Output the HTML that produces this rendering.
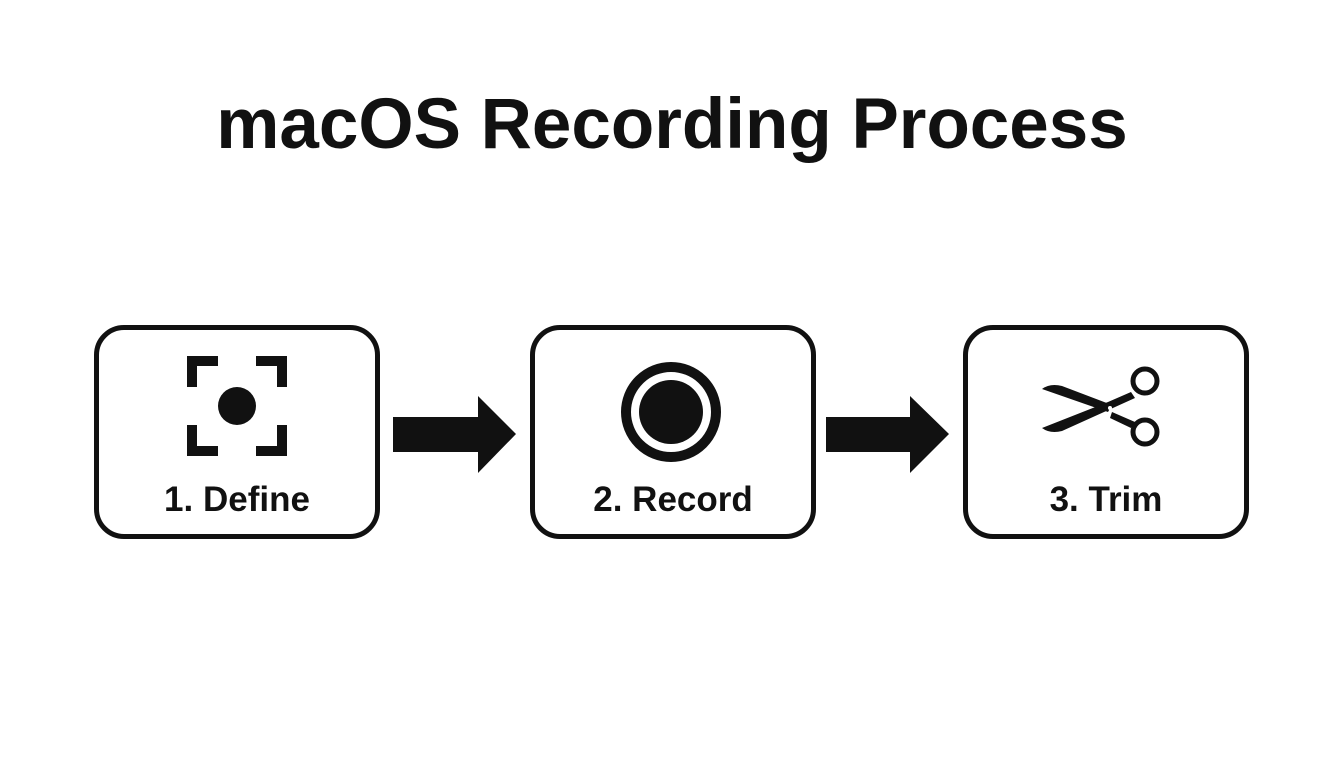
<!DOCTYPE html>
<html><head><meta charset="utf-8"><style>
html,body{margin:0;padding:0;background:#fff;}
body{width:1344px;height:768px;position:relative;overflow:hidden;font-family:"Liberation Sans",Arial,sans-serif;}
.t{position:absolute;left:0;width:1344px;top:84px;text-align:center;font-weight:bold;font-size:71px;color:#111;}
.box{position:absolute;top:325px;width:276px;height:204px;border:5px solid #111;border-radius:30px;}
.lbl{position:absolute;left:0;right:0;top:150px;text-align:center;font-weight:bold;font-size:35px;color:#111;}
</style></head><body>
<div class="t">macOS Recording Process</div>
<div class="box" style="left:94px"><div class="lbl">1. Define</div></div>
<div class="box" style="left:530px"><div class="lbl">2. Record</div></div>
<div class="box" style="left:963px"><div class="lbl">3. Trim</div></div>
<svg width="1344" height="768" style="position:absolute;left:0;top:0">
<g fill="#111">
<path d="M187 356h31v10h-21v21h-10z"/>
<path d="M287 356h-31v10h21v21h10z"/>
<path d="M187 456h31v-10h-21v-21h-10z"/>
<path d="M287 456h-31v-10h21v-21h10z"/>
<circle cx="237" cy="406" r="19"/>
<path d="M393 417h85v-21l38 38-38 39v-21h-85z"/>
<path d="M826 417h84v-21l39 38-39 39v-21h-84z"/>
<circle cx="671" cy="412" r="32"/>
</g>
<circle cx="671" cy="412" r="45" fill="none" stroke="#111" stroke-width="10"/>
<g fill="#111">
<path d="M1042 389 Q1050 383 1062 386 L1112 405 L1108 412 Z"/>
<path d="M1042 428 Q1050 434 1062 431 L1135 398 L1131 392 L1108 402 Z"/>
<path d="M1112 412 L1135 422 L1131 428 L1110 418 Z"/>
</g>
<circle cx="1145" cy="381" r="12" fill="none" stroke="#111" stroke-width="5"/>
<circle cx="1145" cy="432" r="12" fill="none" stroke="#111" stroke-width="5"/>
<circle cx="1110" cy="408" r="2" fill="#fff"/>
</svg>
</body></html>
